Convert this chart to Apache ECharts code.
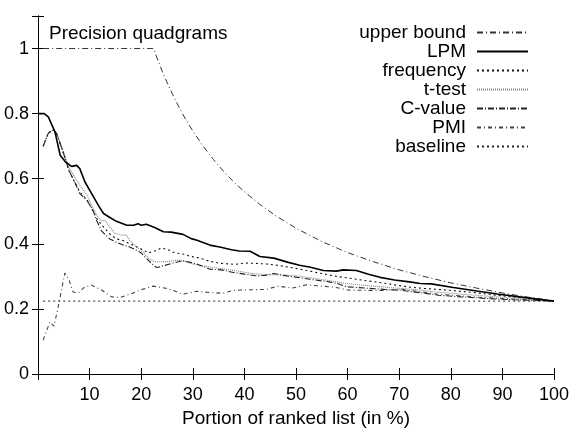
<!DOCTYPE html>
<html>
<head>
<meta charset="utf-8">
<script src="https://cdn.jsdelivr.net/npm/echarts@6/dist/echarts.min.js"></script>
<style>
  html, body { margin: 0; padding: 0; background: #fff; }
  #chart { width: 571px; height: 430px; }
</style>
</head>
<body>
<div id="chart"></div>
<script>
// Precision of quadgram candidates along the ranked list, [portion %, precision]
const upperBound = [[1,1],[22.4,1],[23,0.974],[24,0.933],[25,0.896],[26,0.862],[27,0.83],[28,0.8],[29,0.772],[30,0.747],[32,0.7],[34,0.659],[36,0.622],[38,0.589],[40,0.56],[43,0.521],[46,0.487],[50,0.448],[55,0.407],[60,0.373],[65,0.345],[70,0.32],[75,0.299],[80,0.28],[85,0.264],[90,0.249],[95,0.236],[100,0.224]];

const lpm = [[0.1,0.8],[1.2,0.8],[2,0.79],[3.3,0.743],[4.3,0.672],[5.3,0.652],[6.5,0.638],[7.5,0.641],[8.1,0.631],[9.1,0.59],[10.4,0.554],[11.7,0.518],[12.7,0.493],[14,0.48],[15.2,0.469],[17.2,0.457],[18.5,0.457],[19.4,0.462],[20,0.457],[21,0.46],[22.6,0.45],[24.3,0.437],[25.8,0.436],[28.1,0.429],[29.7,0.416],[30.8,0.411],[33.3,0.396],[35.2,0.39],[37.5,0.382],[39,0.378],[41.1,0.377],[43,0.361],[45.7,0.356],[48.5,0.343],[50.7,0.334],[52.8,0.328],[55.3,0.318],[57.8,0.316],[59.2,0.32],[61.7,0.318],[64.2,0.306],[66.3,0.297],[69.1,0.289],[72,0.283],[74.1,0.278],[76.2,0.277],[80.5,0.266],[84.7,0.256],[89,0.246],[93.3,0.237],[100,0.224]];

const frequency = [[1,0.7],[2,0.74],[3,0.752],[3.6,0.74],[4.9,0.68],[6,0.625],[7.1,0.59],[8.1,0.56],[9.5,0.535],[10.5,0.505],[11.5,0.475],[12.5,0.455],[13.9,0.43],[15.2,0.415],[16.5,0.41],[17.8,0.4],[19.7,0.387],[21.4,0.372],[22.6,0.378],[23.9,0.387],[25.2,0.382],[26.5,0.372],[28.4,0.368],[29.4,0.362],[31.4,0.356],[33.3,0.346],[35.3,0.34],[38.2,0.337],[40.1,0.341],[42,0.34],[44.3,0.338],[46.4,0.334],[48.8,0.328],[52,0.318],[54.6,0.31],[57.8,0.3],[60.5,0.294],[63.4,0.287],[66.3,0.281],[69,0.274],[72,0.267],[74.8,0.263],[77.6,0.26],[81.2,0.255],[84.7,0.25],[88.3,0.243],[91.8,0.237],[95.4,0.232],[100,0.224]];

const tTest = [[1,0.7],[2,0.74],[3,0.75],[3.6,0.742],[4.9,0.685],[6,0.635],[7.1,0.605],[8.1,0.58],[9.5,0.55],[10.5,0.515],[11.5,0.485],[12.3,0.47],[12.9,0.473],[13.9,0.452],[14.9,0.432],[16.5,0.426],[17.1,0.428],[17.8,0.41],[19.1,0.39],[20.3,0.375],[21.5,0.355],[22.6,0.345],[24,0.345],[25.5,0.346],[27,0.35],[28.5,0.346],[30,0.338],[32,0.332],[35,0.325],[38,0.318],[41,0.31],[44,0.305],[47,0.305],[50,0.302],[53,0.295],[56,0.288],[59,0.28],[62,0.274],[65,0.27],[68,0.266],[71,0.262],[74,0.258],[77,0.252],[80,0.248],[84,0.243],[88,0.238],[92,0.233],[96,0.228],[100,0.224]];

const cValue = [[1,0.7],[2,0.74],[3,0.75],[3.6,0.738],[4.9,0.68],[6,0.625],[7.1,0.59],[8.1,0.554],[9.5,0.533],[10.6,0.505],[11.4,0.47],[12.3,0.44],[13.9,0.415],[15.2,0.405],[16.5,0.396],[17.5,0.392],[19.1,0.38],[20,0.372],[20.7,0.36],[22,0.34],[23,0.327],[24.4,0.333],[26,0.34],[28,0.348],[29.5,0.343],[30.8,0.338],[33.3,0.322],[35.5,0.32],[37.9,0.312],[40,0.307],[42.2,0.302],[44,0.303],[45.7,0.309],[47.5,0.303],[49.3,0.299],[52.8,0.291],[56.4,0.283],[58,0.278],[59.9,0.268],[63.4,0.264],[67,0.26],[70.5,0.257],[74,0.25],[77.6,0.242],[82,0.237],[86,0.233],[92,0.228],[100,0.224]];

const pmi = [[1,0.104],[2.3,0.16],[3.1,0.147],[3.9,0.206],[5.2,0.31],[5.9,0.294],[6.8,0.252],[7.8,0.249],[9.1,0.268],[10.4,0.273],[12.3,0.258],[14.3,0.237],[15.9,0.235],[17.8,0.245],[19.8,0.258],[22.3,0.27],[24.9,0.263],[26.5,0.255],[28,0.245],[30.8,0.254],[33.6,0.25],[35.8,0.248],[37.9,0.257],[41.4,0.259],[44.3,0.26],[46.4,0.27],[49.3,0.264],[52,0.274],[55,0.27],[57.8,0.266],[60,0.258],[63.4,0.257],[67,0.257],[70.5,0.26],[74,0.253],[77.6,0.245],[82,0.24],[86,0.235],[92,0.23],[100,0.224]];

const baseline = [[1,0.224],[100,0.224]];

const xTicks = { min: 0, max: 100, interval: 10 };
const yTicks = { min: 0, max: 1.1, interval: 0.2 };

const FONT = 'Liberation Sans, Arial, Helvetica, sans-serif';

function line(name, data, color, width, type) {
  return {
    name, type: 'line', data,
    symbol: 'none', showSymbol: false,
    lineStyle: { color, width, type },
    itemStyle: { color },
    z: name === 'LPM' ? 5 : 3
  };
}

const chart = echarts.init(document.getElementById('chart'), null, { renderer: 'canvas' });

const frameAxis = {
  axisLine: { show: true, lineStyle: { color: '#000', width: 1 } },
  axisTick: { show: true, inside: true, length: 6, lineStyle: { color: '#000', width: 1 } },
  splitLine: { show: false }
};

chart.setOption({
  animation: false,
  backgroundColor: '#fff',
  textStyle: { fontFamily: FONT },
  title: {
    text: 'Precision quadgrams',
    left: 44, top: 19,
    textStyle: { fontFamily: FONT, fontSize: 19, fontWeight: 'normal', color: '#000' }
  },
  legend: {
    orient: 'vertical',
    right: 37, top: 18,
    align: 'right',
    itemWidth: 51, itemHeight: 14, itemGap: 0,
    itemStyle: { opacity: 0 },
    textStyle: { fontFamily: FONT, fontSize: 19, lineHeight: 19, color: '#000', padding: [0, 6, 0, 0] },
    data: ['upper bound', 'LPM', 'frequency', 't-test', 'C-value', 'PMI', 'baseline']
  },
  grid: { left: 38, right: 17, top: 16, bottom: 56, containLabel: false, outerBoundsMode: 'none' },
  xAxis: [
    Object.assign({
      type: 'value', position: 'bottom',
      min: xTicks.min, max: xTicks.max, interval: xTicks.interval,
      name: 'Portion of ranked list (in %)',
      nameLocation: 'middle', nameGap: 35,
      nameTextStyle: { fontFamily: FONT, fontSize: 19, color: '#000' },
      axisLabel: {
        fontFamily: FONT, fontSize: 18, color: '#000', margin: 12,
        formatter: v => (v === 0 ? '' : String(v))
      }
    }, frameAxis),
    Object.assign({
      type: 'value', position: 'top',
      min: xTicks.min, max: xTicks.max, interval: xTicks.interval,
      axisLabel: { show: false }
    }, frameAxis)
  ],
  yAxis: [
    Object.assign({
      type: 'value', position: 'left',
      min: yTicks.min, max: yTicks.max, interval: yTicks.interval,
      axisLabel: {
        fontFamily: FONT, fontSize: 18, color: '#000', margin: 9,
        formatter: v => (v > 1.05 ? '' : String(Math.round(v * 10) / 10))
      }
    }, frameAxis),
    Object.assign({
      type: 'value', position: 'right',
      min: yTicks.min, max: yTicks.max, interval: yTicks.interval,
      axisLabel: { show: false }
    }, frameAxis)
  ],
  series: [
    line('upper bound', upperBound, '#333', 1, [6, 3, 1, 3]),
    line('LPM', lpm, '#000', 1.6, 'solid'),
    line('frequency', frequency, '#111', 1.1, [2, 3]),
    line('t-test', tTest, '#808080', 1.1, [1, 1]),
    line('C-value', cValue, '#222', 1.1, [6, 2, 1, 2]),
    line('PMI', pmi, '#444', 1.1, [4, 3, 1, 3]),
    line('baseline', baseline, '#222', 1, [2, 3])
  ]
});
</script>
</body>
</html>
